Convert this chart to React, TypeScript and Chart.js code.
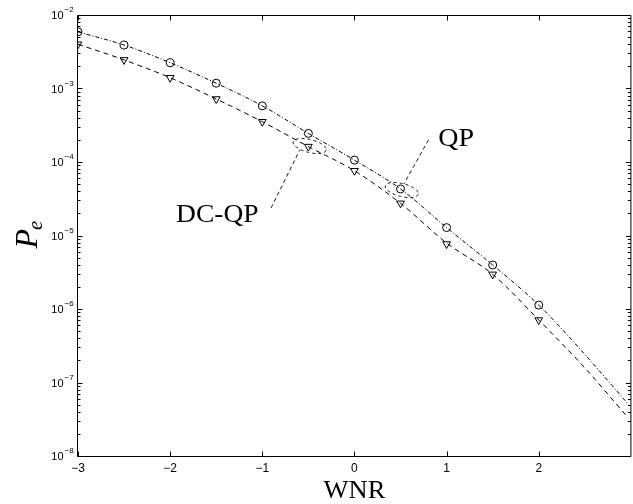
import React, { useEffect, useRef } from 'react';
import { Chart, registerables } from 'chart.js';

Chart.register(...registerables);

// ---- data ----
const curveX = [-3, -2.5, -2, -1.5, -1, -0.5, 0, 0.5, 1, 1.5, 2, 2.5, 3];
const qpCurve = [5.9e-3, 3.9e-3, 2.24e-3, 1.18e-3, 5.8e-4, 2.45e-4, 1.06e-4, 4.3e-5, 1.28e-5, 3.97e-6, 1.13e-6, 2.41e-7, 4.6e-8];
const dcqpCurve = [4.0e-3, 2.45e-3, 1.4e-3, 7.2e-4, 3.53e-4, 1.62e-4, 7.6e-5, 2.74e-5, 7.9e-6, 2.96e-6, 7.08e-7, 1.58e-7, 2.99e-8];

const markerX = [-3, -2.5, -2, -1.5, -1, -0.5, 0, 0.5, 1, 1.5, 2];
const qpMarkers = [5.9e-3, 3.9e-3, 2.24e-3, 1.18e-3, 5.8e-4, 2.45e-4, 1.06e-4, 4.3e-5, 1.28e-5, 3.97e-6, 1.13e-6];
const dcqpMarkers = [4.0e-3, 2.45e-3, 1.4e-3, 7.2e-4, 3.53e-4, 1.62e-4, 7.6e-5, 2.74e-5, 7.66e-6, 2.96e-6, 7.08e-7];

const xTicks = [-3, -2, -1, 0, 1, 2];
const xFrameRight = 3; // the axes box ends at x = 3 (just outside the picture)
const xVisibleMax = 2.963; // picture is cut here
const yExponents = [-8, -7, -6, -5, -4, -3, -2];

const xTitle = 'WNR';
const yTitleMain = 'P';
const yTitleSub = 'e';

// annotations in data coordinates
const qpLabel = { text: 'QP', x: 0.91, y: 1.65e-4 };
const qpPointer = { x1: 0.804, y1: 2.0e-4, x2: 0.535, y2: 5.0e-5 };
const qpEllipse = { x: 0.513, y: 4.16e-5 };
const dcqpLabel = { text: 'DC-QP', x: -1.936, y: 1.53e-5 };
const dcqpPointer = { x1: -0.905, y1: 2.37e-5, x2: -0.593, y2: 1.46e-4 };
const dcqpEllipse = { x: -0.486, y: 1.65e-4 };

const SERIF = '"Liberation Serif", "Times New Roman", serif';
const SANS = '"Liberation Sans", Arial, sans-serif';

const fmt = (n: number) => (n < 0 ? '\u2212' + Math.abs(n) : String(n));

function wideText(ctx: CanvasRenderingContext2D, text: string, x: number, y: number, sx: number, align: 'left' | 'center') {
  ctx.save();
  ctx.translate(x, y);
  ctx.scale(sx, 1);
  ctx.textAlign = align;
  ctx.fillText(text, 0, 0);
  ctx.restore();
}

const framePlugin = {
  id: 'matlabFrame',
  afterDraw(chart: any) {
    const { ctx, chartArea: a, scales } = chart;
    const xs = scales.x;
    const ys = scales.y;
    ctx.save();
    ctx.strokeStyle = '#000';
    ctx.fillStyle = '#000';
    ctx.lineWidth = 1;
    ctx.setLineDash([]);
    const L = Math.round(a.left) - 0.5;
    const R = xs.getPixelForValue(xFrameRight);
    const T = Math.round(a.top) + 0.5;
    const B = Math.round(a.bottom) + 0.5;
    ctx.beginPath();
    ctx.moveTo(L, T);
    ctx.lineTo(R, T);
    ctx.lineTo(R, B);
    ctx.lineTo(L, B);
    ctx.closePath();
    ctx.stroke();

    // x ticks
    ctx.beginPath();
    xTicks.forEach((v) => {
      const px = Math.round(xs.getPixelForValue(v)) + 0.5;
      ctx.moveTo(px, B);
      ctx.lineTo(px, B - 5);
      ctx.moveTo(px, T);
      ctx.lineTo(px, T + 5);
    });
    // y ticks
    yExponents.forEach((e, i) => {
      const py = Math.round(ys.getPixelForValue(Math.pow(10, e))) + 0.5;
      ctx.moveTo(L, py);
      ctx.lineTo(L + 5, py);
      ctx.moveTo(R, py);
      ctx.lineTo(R - 5, py);
      if (i < yExponents.length - 1) {
        for (let m = 2; m <= 9; m++) {
          const pm = Math.round(ys.getPixelForValue(m * Math.pow(10, e))) + 0.5;
          ctx.moveTo(L, pm);
          ctx.lineTo(L + 3, pm);
          ctx.moveTo(R, pm);
          ctx.lineTo(R - 3, pm);
        }
      }
    });
    ctx.stroke();

    // x tick labels
    ctx.font = '12px ' + SANS;
    ctx.textAlign = 'center';
    ctx.textBaseline = 'alphabetic';
    xTicks.forEach((v) => {
      const px = xs.getPixelForValue(v);
      ctx.fillText(fmt(v), px, B + 15);
    });

    // y tick labels
    yExponents.forEach((e) => {
      const py = ys.getPixelForValue(Math.pow(10, e));
      ctx.font = '11px ' + SANS;
      ctx.textAlign = 'right';
      ctx.fillText('10', L - 14, py + 4);
      ctx.font = '8px ' + SANS;
      ctx.textAlign = 'left';
      ctx.fillText(fmt(e), L - 13, py - 3);
    });

    // axis titles
    ctx.font = '25px ' + SERIF;
    wideText(ctx, xTitle, (a.left + R) / 2, 498, 1.06, 'center');

    ctx.save();
    ctx.translate(37, (a.top + a.bottom) / 2 + 13);
    ctx.rotate(-Math.PI / 2);
    ctx.textAlign = 'left';
    ctx.font = 'italic 32px ' + SERIF;
    ctx.fillText(yTitleMain, 0, 0);
    const w = ctx.measureText(yTitleMain).width;
    ctx.font = 'italic 21px ' + SERIF;
    ctx.fillText(yTitleSub, w - 1, 5);
    ctx.restore();

    // annotations
    ctx.font = '25px ' + SERIF;
    wideText(ctx, qpLabel.text, xs.getPixelForValue(qpLabel.x), ys.getPixelForValue(qpLabel.y), 1.12, 'left');
    wideText(ctx, dcqpLabel.text, xs.getPixelForValue(dcqpLabel.x), ys.getPixelForValue(dcqpLabel.y), 1.1, 'left');

    ctx.setLineDash([4, 3]);
    ctx.lineWidth = 0.9;
    [qpPointer, dcqpPointer].forEach((p) => {
      ctx.beginPath();
      ctx.moveTo(xs.getPixelForValue(p.x1), ys.getPixelForValue(p.y1));
      ctx.lineTo(xs.getPixelForValue(p.x2), ys.getPixelForValue(p.y2));
      ctx.stroke();
    });
    ctx.setLineDash([3, 3]);
    [qpEllipse, dcqpEllipse].forEach((el) => {
      ctx.beginPath();
      ctx.ellipse(xs.getPixelForValue(el.x), ys.getPixelForValue(el.y), 17, 6.5, 0.25, 0, Math.PI * 2);
      ctx.stroke();
    });
    ctx.restore();
  },
};

export default function App() {
  const ref = useRef<HTMLCanvasElement | null>(null);
  useEffect(() => {
    if (!ref.current) return;
    const chart = new Chart(ref.current, {
      type: 'line',
      data: {
        datasets: [
          {
            label: 'QP curve',
            data: curveX.map((x, i) => ({ x, y: qpCurve[i] })),
            borderColor: '#000',
            borderWidth: 1,
            borderDash: [4, 2, 1, 2],
            pointRadius: 0,
            cubicInterpolationMode: 'monotone',
            fill: false,
          },
          {
            label: 'DC-QP curve',
            data: curveX.map((x, i) => ({ x, y: dcqpCurve[i] })),
            borderColor: '#000',
            borderWidth: 1,
            borderDash: [5, 4],
            pointRadius: 0,
            cubicInterpolationMode: 'monotone',
            fill: false,
          },
          {
            label: 'QP',
            data: markerX.map((x, i) => ({ x, y: qpMarkers[i] })),
            showLine: false,
            pointStyle: 'circle',
            pointRadius: 4,
            pointBorderWidth: 1,
            pointBorderColor: '#000',
            pointBackgroundColor: 'rgba(0,0,0,0)',
          },
          {
            label: 'DC-QP',
            data: markerX.map((x, i) => ({ x, y: dcqpMarkers[i] })),
            showLine: false,
            pointStyle: 'triangle',
            pointRotation: 180,
            pointRadius: 4.5,
            pointBorderWidth: 1,
            pointBorderColor: '#000',
            pointBackgroundColor: 'rgba(0,0,0,0)',
          },
        ],
      },
      options: {
        animation: false,
        responsive: false,
        events: [],
        layout: { padding: { left: 78, right: 0, top: 15, bottom: 48 } },
        scales: {
          x: { type: 'linear', min: -3, max: xVisibleMax, display: false },
          y: { type: 'logarithmic', min: 1e-8, max: 1e-2, display: false },
        },
        plugins: { legend: { display: false }, tooltip: { enabled: false } },
      },
      plugins: [framePlugin],
    } as any);
    return () => chart.destroy();
  }, []);
  return (
    <div style={{ position: 'fixed', left: 0, top: 0, width: 633, height: 504, overflow: 'hidden', background: '#fff' }}>
      <canvas ref={ref} width={633} height={504} style={{ display: 'block', width: 633, height: 504 }} />
    </div>
  );
}
